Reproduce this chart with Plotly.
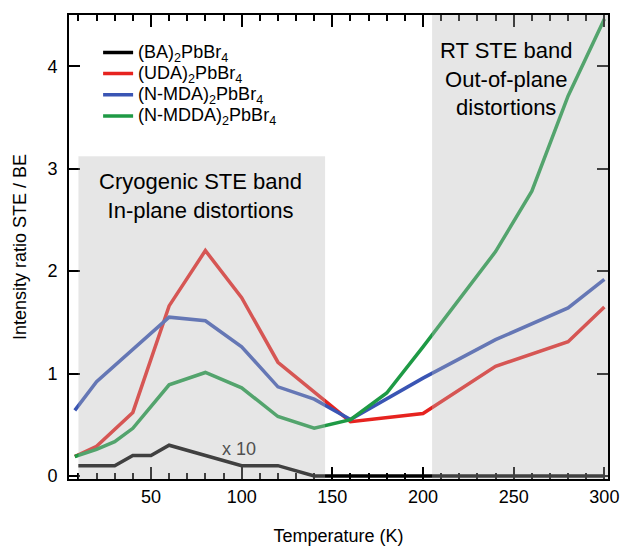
import plotly.graph_objects as go

# Temperature series (K) and STE/BE intensity ratios
t_ba = [10, 20, 30, 40, 50, 60, 80, 100, 120, 140, 160, 180, 200, 240, 260, 280, 300]
r_ba = [0.1, 0.1, 0.1, 0.2, 0.2, 0.3, 0.2, 0.1, 0.1, 0.0, 0.0, 0.0, 0.0, 0.0, 0.0, 0.0, 0.0]  # scaled x10

t_uda = [8, 20, 40, 60, 80, 100, 120, 160, 200, 240, 280, 300]
r_uda = [0.19, 0.29, 0.62, 1.66, 2.20, 1.74, 1.11, 0.53, 0.61, 1.07, 1.31, 1.65]

t_nmda = [8, 20, 60, 80, 100, 120, 140, 160, 200, 240, 280, 300]
r_nmda = [0.64, 0.92, 1.55, 1.515, 1.26, 0.87, 0.75, 0.55, 0.955, 1.33, 1.64, 1.92]

t_nmdda = [8, 20, 30, 40, 60, 80, 100, 120, 140, 160, 180, 200, 240, 260, 280, 300]
r_nmdda = [0.19, 0.26, 0.335, 0.465, 0.89, 1.01, 0.86, 0.58, 0.466, 0.55, 0.81, 1.26, 2.19, 2.78, 3.71, 4.46]

names = ["(BA)<sub>2</sub>PbBr<sub>4</sub>",
         "(UDA)<sub>2</sub>PbBr<sub>4</sub>",
         "(N-MDA)<sub>2</sub>PbBr<sub>4</sub>",
         "(N-MDDA)<sub>2</sub>PbBr<sub>4</sub>"]
colors = ["#000000", "#e6231f", "#3a55b4", "#1e9a45"]

# Temperature bands (K) and band heights
cryo_band = (10, 146, 3.12)
rt_band = (205, 302, 4.5)

FONT = "Liberation Sans, Arial, Helvetica, sans-serif"

fig = go.Figure()
for t, r, n, c in zip([t_ba, t_uda, t_nmda, t_nmdda],
                      [r_ba, r_uda, r_nmda, r_nmdda], names, colors):
    fig.add_trace(go.Scatter(x=t, y=r, mode="lines",
                             name='<span style="font-size:18px">' + n + "</span>",
                             line=dict(color=c, width=3.5)))

band_fill = "rgba(183,183,183,0.35)"
for x0, x1, top in (cryo_band, rt_band):
    fig.add_shape(type="rect", xref="x", yref="y", x0=x0, x1=x1,
                  y0=-0.03, y1=top, fillcolor=band_fill, line_width=0,
                  layer="above")

fig.add_annotation(x=77.5, y=2.73, xref="x", yref="y",
                   text="Cryogenic STE band<br>In-plane distortions",
                   showarrow=False, font=dict(family=FONT, size=22, color="black"))
fig.add_annotation(x=245.8, y=3.88, xref="x", yref="y",
                   text="RT STE band<br>Out-of-plane<br>distortions",
                   showarrow=False, font=dict(family=FONT, size=22, color="black"))
fig.add_annotation(x=98.8, y=0.264, xref="x", yref="y", text="x 10",
                   showarrow=False, font=dict(family=FONT, size=18, color="#505050"))

axis_common = dict(showline=True, linecolor="black", linewidth=2, mirror="ticks",
                   ticks="inside", tickwidth=2, tickcolor="black",
                   showgrid=False, zeroline=False, automargin=False,
                   tickfont=dict(family=FONT, size=18, color="black"))

fig.update_xaxes(range=[4.8, 302], dtick=50, tick0=0, ticklen=12,
                 minor=dict(dtick=10, ticks="inside", ticklen=6, tickwidth=1.5,
                            tickcolor="black", showgrid=False),
                 title=dict(text="Temperature (K)", font=dict(family=FONT, size=18),
                            standoff=24),
                 **axis_common)
fig.update_yaxes(range=[-0.03, 4.5], dtick=1, tick0=0, ticklen=11,
                 ticklabelstandoff=6,
                 title=dict(text="Intensity ratio STE / BE", font=dict(family=FONT, size=18),
                            standoff=16),
                 **axis_common)

fig.update_layout(
    width=621, height=546,
    margin=dict(l=69, r=13, t=15, b=67),
    plot_bgcolor="white", paper_bgcolor="white",
    font=dict(family=FONT, size=18, color="black"),
    legend=dict(x=0.054, y=0.953, xanchor="left", yanchor="top",
                bgcolor="rgba(0,0,0,0)", borderwidth=0,
                font=dict(family=FONT, size=14, color="black"),
                tracegroupgap=0),
)

fig.write_html("out.html")
